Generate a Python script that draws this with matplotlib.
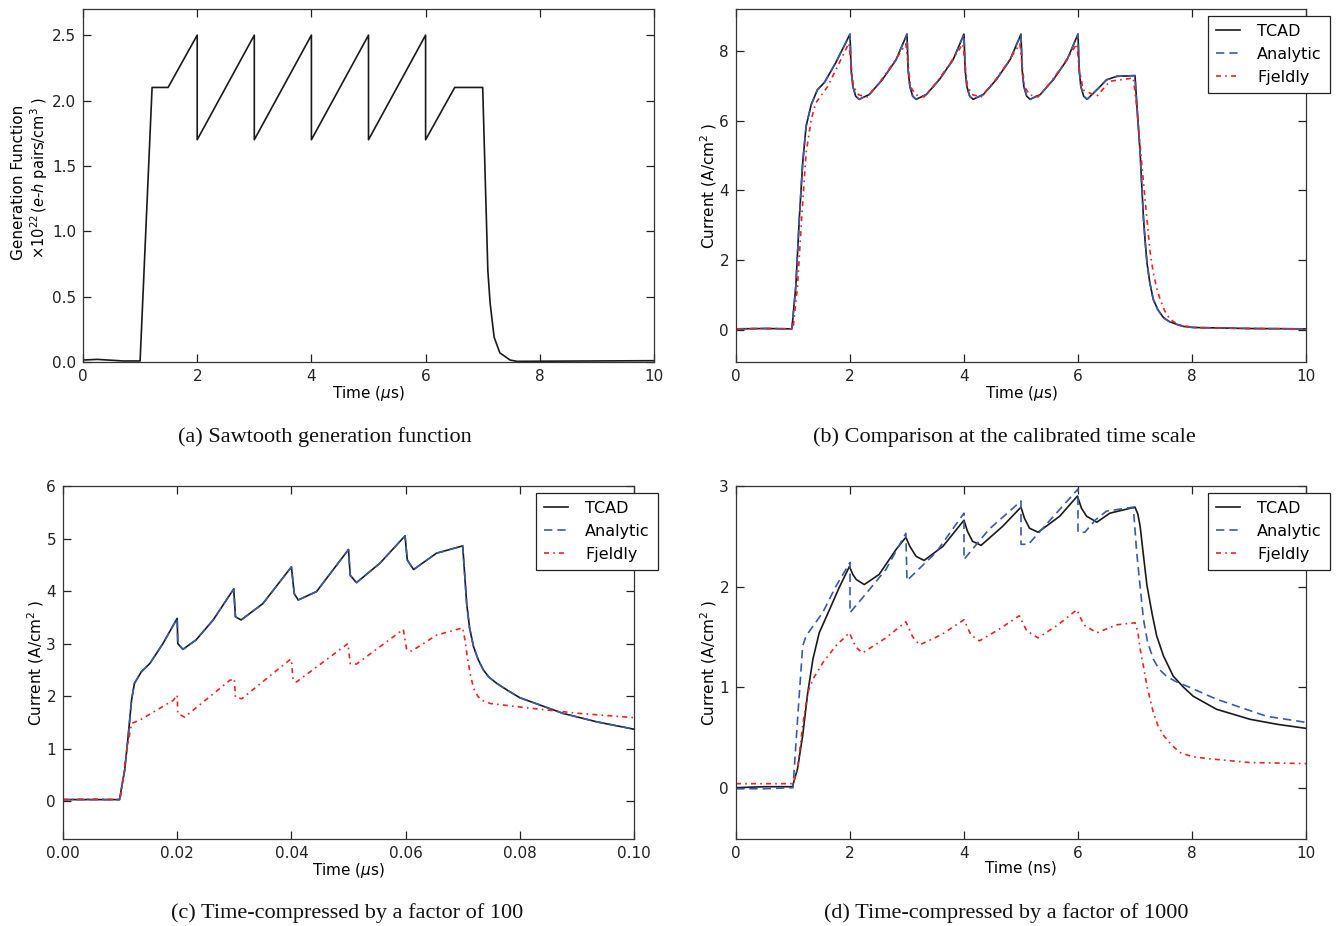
import matplotlib
matplotlib.use("Agg")
import matplotlib.pyplot as plt
from matplotlib.ticker import FormatStrFormatter

# ---- (a) sawtooth generation function, x1e22 e-h pairs/cm^3 vs time (us)
t_gen = [0.0, 0.25, 0.7, 1.0, 1.21, 1.49, 2.0, 2.0, 3.0, 3.0, 4.0, 4.0, 5.0, 5.0,
         6.0, 6.0, 6.51, 7.0, 7.04, 7.09, 7.13, 7.2, 7.3, 7.48, 7.6, 8.0, 10.0]
gen = [0.015, 0.02, 0.008, 0.008, 2.1, 2.1, 2.5, 1.7, 2.5, 1.7, 2.5, 1.7, 2.5, 1.7,
       2.5, 1.7, 2.1, 2.1, 1.47, 0.7, 0.45, 0.19, 0.07, 0.015, 0.005, 0.006, 0.01]

# ---- (b) calibrated time scale, time in us
t_tcad_b = [0.0, 0.5, 0.98, 1.05, 1.11, 1.17, 1.23, 1.32, 1.43, 1.55, 1.75, 2.0,
            2.02, 2.05, 2.1, 2.16, 2.34, 2.57, 2.81, 3.0,
            3.02, 3.05, 3.1, 3.16, 3.34, 3.57, 3.81, 4.0,
            4.02, 4.05, 4.1, 4.16, 4.34, 4.57, 4.81, 5.0,
            5.02, 5.05, 5.1, 5.16, 5.34, 5.57, 5.81, 6.0,
            6.02, 6.05, 6.1, 6.16, 6.39, 6.5, 6.68, 7.0,
            7.03, 7.06, 7.09, 7.12, 7.15, 7.18, 7.21, 7.26, 7.32, 7.4, 7.5, 7.6,
            7.73, 7.85, 8.02, 9.0, 10.0]
tcad_b = [0.03, 0.04, 0.03, 1.26, 3.17, 4.79, 5.84, 6.46, 6.89, 7.09, 7.66, 8.48,
          7.46, 6.98, 6.7, 6.61, 6.75, 7.18, 7.75, 8.48,
          7.46, 6.98, 6.7, 6.61, 6.75, 7.18, 7.75, 8.48,
          7.46, 6.98, 6.7, 6.61, 6.75, 7.18, 7.75, 8.48,
          7.46, 6.98, 6.7, 6.61, 6.75, 7.18, 7.75, 8.48,
          7.46, 6.98, 6.7, 6.61, 6.98, 7.17, 7.27, 7.29,
          6.51, 5.8, 5.08, 4.1, 3.17, 2.5, 1.93, 1.35, 0.88, 0.58, 0.35, 0.24,
          0.16, 0.1, 0.07, 0.04, 0.03]
t_ana_b = t_tcad_b
ana_b = tcad_b
t_fj_b = [0.0, 0.5, 1.0, 1.08, 1.15, 1.23, 1.32, 1.40, 1.61, 1.81, 1.98,
          2.02, 2.06, 2.15, 2.3, 2.53, 2.76, 2.98,
          3.02, 3.06, 3.15, 3.3, 3.53, 3.76, 3.98,
          4.02, 4.06, 4.15, 4.3, 4.53, 4.76, 4.98,
          5.02, 5.06, 5.15, 5.3, 5.53, 5.76, 5.98,
          6.02, 6.09, 6.33, 6.56, 6.97,
          7.03, 7.09, 7.15, 7.21, 7.26, 7.32, 7.38, 7.44, 7.52, 7.61, 7.72, 7.84,
          8.1, 9.0, 10.0]
fj_b = [0.03, 0.04, 0.03, 1.26, 3.17, 5.08, 6.03, 6.51, 6.98, 7.65, 8.22,
        7.6, 6.98, 6.74, 6.68, 7.12, 7.65, 8.2,
        7.6, 6.98, 6.74, 6.68, 7.12, 7.65, 8.2,
        7.6, 6.98, 6.74, 6.68, 7.12, 7.65, 8.2,
        7.6, 6.98, 6.74, 6.68, 7.12, 7.65, 8.2,
        7.5, 6.88, 6.7, 7.13, 7.22,
        6.4, 5.27, 4.2, 3.17, 2.3, 1.64, 1.2, 0.88, 0.55, 0.31, 0.19, 0.12,
        0.06, 0.04, 0.03]

# ---- (c) compressed x100, time in us
t_tcad_c = [0.0, 0.005, 0.0099, 0.0108, 0.0114, 0.012, 0.0125, 0.0137, 0.0152, 0.0175, 0.02,
            0.0201, 0.021, 0.0233, 0.0263, 0.0299, 0.0302, 0.0312, 0.035, 0.04,
            0.0405, 0.0412, 0.0444, 0.05, 0.0503, 0.0514, 0.0555, 0.0599,
            0.0603, 0.0614, 0.0654, 0.07, 0.0707, 0.0712, 0.0719, 0.0727, 0.0736,
            0.0746, 0.076, 0.078, 0.08, 0.0876, 0.0935, 0.1]
tcad_c = [0.03, 0.03, 0.03, 0.59, 1.22, 1.92, 2.24, 2.46, 2.62, 3.0, 3.48,
          3.0, 2.89, 3.07, 3.45, 4.04, 3.51, 3.45, 3.76, 4.46,
          3.95, 3.83, 3.99, 4.79, 4.3, 4.16, 4.53, 5.05,
          4.59, 4.41, 4.72, 4.86, 3.76, 3.3, 2.94, 2.7, 2.5,
          2.36, 2.24, 2.1, 1.97, 1.67, 1.51, 1.37]
t_ana_c = t_tcad_c
ana_c = tcad_c
t_fj_c = [0.0, 0.005, 0.01, 0.0111, 0.012, 0.0134, 0.0193, 0.02, 0.0201, 0.0213,
          0.0292, 0.03, 0.0302, 0.0313, 0.0397, 0.04, 0.0403, 0.0409, 0.0499,
          0.0503, 0.0514, 0.0596, 0.0602, 0.0611, 0.0654, 0.07, 0.0704, 0.0708,
          0.0713, 0.0719, 0.0727, 0.0736, 0.0748, 0.0818, 0.0905, 0.1]
fj_c = [0.03, 0.04, 0.03, 0.91, 1.48, 1.54, 1.92, 2.02, 1.67, 1.6,
        2.3, 2.33, 1.98, 1.95, 2.69, 2.7, 2.3, 2.27, 3.0,
        2.62, 2.61, 3.27, 2.88, 2.86, 3.16, 3.3, 3.07, 2.75,
        2.43, 2.15, 1.99, 1.91, 1.86, 1.77, 1.67, 1.59]

# ---- (d) compressed x1000, time in ns
t_tcad_d = [0.0, 0.5, 0.99, 1.08, 1.17, 1.26, 1.35, 1.46, 1.64, 1.81, 1.99,
            2.05, 2.11, 2.25, 2.51, 2.81, 2.98, 3.05, 3.16, 3.30, 3.63, 4.0,
            4.06, 4.15, 4.30, 4.68, 5.0, 5.06, 5.15, 5.3, 5.68, 5.99,
            6.06, 6.15, 6.33, 6.56, 7.0, 7.05, 7.09, 7.15, 7.21, 7.3, 7.38, 7.5,
            7.67, 7.85, 8.02, 8.43, 9.02, 9.5, 10.0]
tcad_d = [0.0, 0.01, 0.01, 0.19, 0.52, 0.95, 1.28, 1.54, 1.77, 1.99, 2.2,
          2.12, 2.07, 2.02, 2.12, 2.37, 2.49, 2.4, 2.3, 2.26, 2.40, 2.66,
          2.55, 2.45, 2.41, 2.60, 2.79, 2.68, 2.58, 2.54, 2.70, 2.9,
          2.78, 2.70, 2.64, 2.73, 2.79, 2.72, 2.60, 2.3, 2.01, 1.73, 1.51, 1.31,
          1.11, 1.0, 0.91, 0.78, 0.68, 0.63, 0.59]
t_ana_d = [0.0, 0.5, 1.0, 1.08, 1.17, 1.23, 1.52, 1.75, 2.0, 2.0, 2.34, 2.63, 2.98,
           3.0, 3.51, 4.0, 4.0, 4.44, 5.0, 5.0, 5.13, 6.0, 6.0, 6.12, 6.3, 6.5, 6.97,
           7.03, 7.09, 7.15, 7.22, 7.32, 7.42, 7.55, 7.7, 7.91, 8.43, 9.31, 10.0]
ana_d = [-0.01, -0.01, 0.0, 0.68, 1.41, 1.51, 1.74, 2.0, 2.24, 1.74, 1.97, 2.17, 2.53,
         2.06, 2.34, 2.73, 2.27, 2.57, 2.85, 2.42, 2.42, 2.97, 2.54, 2.54, 2.66, 2.75, 2.79,
         2.34, 2.0, 1.67, 1.45, 1.28, 1.18, 1.11, 1.06, 1.01, 0.88, 0.71, 0.65]
t_fj_d = [0.0, 0.5, 1.0, 1.08, 1.17, 1.26, 1.35, 1.52, 1.75, 1.99, 2.1, 2.22, 2.63, 2.98,
          3.1, 3.22, 3.6, 4.0, 4.12, 4.27, 4.6, 4.97, 5.1, 5.3, 5.65, 5.98, 6.1, 6.33,
          6.68, 7.0, 7.05, 7.09, 7.15, 7.21, 7.32, 7.4, 7.5, 7.65, 7.79, 8.0, 8.26,
          9.02, 10.0]
fj_d = [0.04, 0.04, 0.04, 0.19, 0.62, 0.95, 1.08, 1.24, 1.41, 1.54, 1.4, 1.34, 1.49, 1.65,
        1.5, 1.42, 1.52, 1.67, 1.52, 1.46, 1.57, 1.71, 1.56, 1.49, 1.62, 1.77, 1.62, 1.54,
        1.62, 1.64, 1.55, 1.38, 1.2, 1.01, 0.75, 0.62, 0.52, 0.42, 0.35, 0.31, 0.29,
        0.25, 0.24]

captions = ["(a) Sawtooth generation function",
            "(b) Comparison at the calibrated time scale",
            "(c) Time-compressed by a factor of 100",
            "(d) Time-compressed by a factor of 1000"]

BLACK = "#1a1a1a"
BLUE = "#3b5ba8"
RED = "#ee2222"


def style_axes(ax):
    ax.tick_params(direction="in", top=True, right=True, length=6, width=0.9,
                   labelsize=11, pad=5, colors="#222222")
    for sp in ax.spines.values():
        sp.set_linewidth(0.9)
        sp.set_color("#333333")


def plot_three(ax, t1, y1, t2, y2, t3, y3):
    ax.plot(t1, y1, color=BLACK, lw=1.2, label="TCAD")
    ax.plot(t2, y2, color=BLUE, lw=1.2, linestyle=(0, (5, 3)), label="Analytic")
    ax.plot(t3, y3, color=RED, lw=1.2, linestyle=(0, (3, 2.5, 1, 2.5)), label="Fjeldly")
    leg = ax.legend(loc="upper right", bbox_to_anchor=(1.042, 0.98), borderaxespad=0,
                    fontsize=11.5, fancybox=False, framealpha=1, edgecolor="#222222",
                    handlelength=1.5, handletextpad=1.1, labelspacing=0.5,
                    borderpad=0.5)
    leg.get_frame().set_linewidth(0.9)


fig = plt.figure(figsize=(13.43, 9.26), dpi=100)

ax_a = fig.add_axes([83 / 1343, 1 - 362 / 926, 571 / 1343, 353 / 926])
ax_b = fig.add_axes([736 / 1343, 1 - 362 / 926, 570 / 1343, 353 / 926])
ax_c = fig.add_axes([63 / 1343, 1 - 839 / 926, 571 / 1343, 353 / 926])
ax_d = fig.add_axes([736 / 1343, 1 - 839 / 926, 570 / 1343, 353 / 926])

# (a)
ax_a.plot(t_gen, gen, color=BLACK, lw=1.2)
ax_a.set_xlim(0, 10)
ax_a.set_ylim(0, 2.7)
ax_a.set_yticks([0.0, 0.5, 1.0, 1.5, 2.0, 2.5])
ax_a.yaxis.set_major_formatter(FormatStrFormatter("%.1f"))
ax_a.set_xlabel(r"Time ($\mu$s)", fontsize=11)
ax_a.set_ylabel("Generation Function", fontsize=11)
ax_a.yaxis.set_label_coords(-0.0998, 0.51)
ax_a.text(-0.077, 0.52, r"$\times10^{22}\,(e$-$h$ pairs/cm$^3$ )", transform=ax_a.transAxes,
          rotation=90, ha="center", va="center", fontsize=10.5)

# (b)
plot_three(ax_b, t_tcad_b, tcad_b, t_ana_b, ana_b, t_fj_b, fj_b)
ax_b.set_xlim(0, 10)
ax_b.set_ylim(-0.92, 9.2)
ax_b.set_yticks([0, 2, 4, 6, 8])
ax_b.set_xlabel(r"Time ($\mu$s)", fontsize=11)
ax_b.set_ylabel(r"Current (A/cm$^2$ )", fontsize=11)
ax_b.yaxis.set_label_coords(-0.030, 0.5)

# (c)
plot_three(ax_c, t_tcad_c, tcad_c, t_ana_c, ana_c, t_fj_c, fj_c)
ax_c.set_xlim(0, 0.1)
ax_c.set_ylim(-0.72, 6)
ax_c.set_xticks([0.0, 0.02, 0.04, 0.06, 0.08, 0.10])
ax_c.xaxis.set_major_formatter(FormatStrFormatter("%.2f"))
ax_c.set_yticks([0, 1, 2, 3, 4, 5, 6])
ax_c.set_xlabel(r"Time ($\mu$s)", fontsize=11)
ax_c.set_ylabel(r"Current (A/cm$^2$ )", fontsize=11)
ax_c.yaxis.set_label_coords(-0.030, 0.5)

# (d)
plot_three(ax_d, t_tcad_d, tcad_d, t_ana_d, ana_d, t_fj_d, fj_d)
ax_d.set_xlim(0, 10)
ax_d.set_ylim(-0.51, 3)
ax_d.set_yticks([0, 1, 2, 3])
ax_d.set_xlabel("Time (ns)", fontsize=11)
ax_d.set_ylabel(r"Current (A/cm$^2$ )", fontsize=11)
ax_d.yaxis.set_label_coords(-0.030, 0.5)

for ax in [ax_a, ax_b, ax_c, ax_d]:
    style_axes(ax)
    ax.set_xticks(ax.get_xticks())
    ax.xaxis.set_label_coords(0.5, -0.062)

# captions under each panel
cap_pos = [(325, 437), (1004, 437), (347, 913), (1006, 913)]
for text, (px, py) in zip(captions, cap_pos):
    fig.text(px / 1343, 1 - py / 926, text, ha="center", va="center",
             fontsize=16, family="Liberation Serif", color="#111111")

fig.savefig("out.png", dpi=100)
